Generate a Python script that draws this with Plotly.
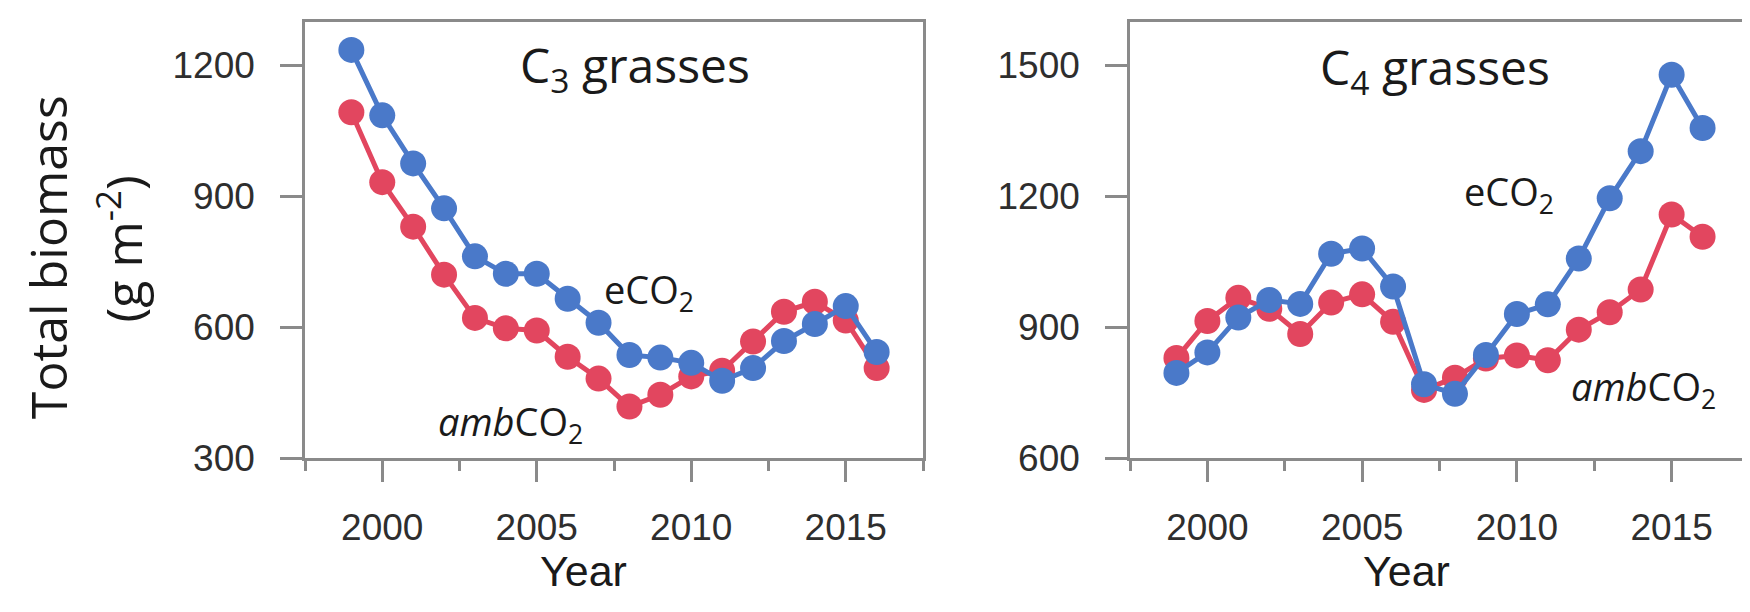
import plotly.graph_objects as go

# ---- data ----
years = [1999, 2000, 2001, 2002, 2003, 2004, 2005, 2006, 2007, 2008,
         2009, 2010, 2011, 2012, 2013, 2014, 2015, 2016]
c3_eco2 = [1235, 1085, 975, 872, 762, 722, 722, 665, 610, 536,
           530, 518, 477, 506, 568, 607, 648, 543]
c3_amb = [1092, 932, 830, 720, 621, 597, 592, 532, 482, 418,
          445, 487, 500, 567, 635, 658, 615, 506]
c4_eco2 = [795, 842, 922, 962, 953, 1068, 1080, 993, 769, 747,
           836, 930, 952, 1057, 1195, 1303, 1478, 1356]
c4_amb = [829, 914, 967, 942, 884, 956, 975, 912, 756, 784,
          828, 835, 824, 894, 934, 986, 1158, 1107]

major_years = [2000, 2005, 2010, 2015]
minor_years = [1997.5, 2002.5, 2007.5, 2012.5, 2017.5]
c3_yticks = [300, 600, 900, 1200]
c4_yticks = [600, 900, 1200, 1500]

BLUE = "#4a79c9"
RED = "#e2465f"
AX = "#8a8a8a"
TXT = "#2e2e2e"

W, H = 1750, 612


def px(x):
    return x / W


def py(y):
    return (H - y) / H


fig = go.Figure()

for xa, ya, amb, eco in [("x", "y", c3_amb, c3_eco2), ("x2", "y2", c4_amb, c4_eco2)]:
    fig.add_trace(go.Scatter(x=years, y=amb, mode="lines+markers", xaxis=xa, yaxis=ya,
                             line=dict(color=RED, width=5),
                             marker=dict(color=RED, size=26), showlegend=False))
    fig.add_trace(go.Scatter(x=years, y=eco, mode="lines+markers", xaxis=xa, yaxis=ya,
                             line=dict(color=BLUE, width=5),
                             marker=dict(color=BLUE, size=26), showlegend=False))

ydom = [py(466), py(14)]


def xaxis_cfg(domain, anchor):
    return dict(domain=domain, anchor=anchor, range=[1997.5, 2017.5],
                showline=True, mirror=True, linecolor=AX, linewidth=2.5,
                showgrid=False, zeroline=False,
                tickmode="array", tickvals=major_years,
                ticktext=[str(v) for v in major_years],
                ticks="outside", ticklen=21, tickwidth=2.5, tickcolor=AX,
                ticklabelstandoff=14,
                minor=dict(tickvals=minor_years, ticks="outside", ticklen=10,
                           tickwidth=2.5, tickcolor=AX, showgrid=False),
                tickfont=dict(family="Liberation Sans, Arial", size=37, color=TXT))


def yaxis_cfg(rng, ticks, anchor):
    return dict(domain=ydom, anchor=anchor, range=rng,
                showline=True, mirror=True, linecolor=AX, linewidth=2.5,
                showgrid=False, zeroline=False,
                tickmode="array", tickvals=ticks, ticktext=[str(v) for v in ticks],
                ticks="outside", ticklen=22, tickwidth=2.5, tickcolor=AX,
                ticklabelstandoff=18,
                tickfont=dict(family="Liberation Sans, Arial", size=37, color=TXT))


fig.update_layout(
    width=W, height=H,
    margin=dict(l=0, r=0, t=0, b=0),
    paper_bgcolor="white", plot_bgcolor="white",
    xaxis=xaxis_cfg([px(297), px(915)], "y"),
    yaxis=yaxis_cfg([300, 1300], c3_yticks, "x"),
    xaxis2=xaxis_cfg([px(1122), px(1741)], "y2"),
    yaxis2=yaxis_cfg([600, 1600], c4_yticks, "x2"),
)

SANS = "Open Sans"
ann = []
# panel titles
ann.append(dict(text="C<sub>3</sub> grasses", x=px(627), y=py(62), font=dict(family=SANS, size=48, color="#1a1a1a")))
ann.append(dict(text="C<sub>4</sub> grasses", x=px(1427), y=py(64), font=dict(family=SANS, size=48, color="#1a1a1a")))
# series labels
ann.append(dict(text="eCO<sub>2</sub>", x=px(641), y=py(294), font=dict(family=SANS, size=38, color="#1a1a1a")))
ann.append(dict(text="<i>amb</i>CO<sub>2</sub>", x=px(502), y=py(430), font=dict(family=SANS, size=38, color="#1a1a1a")))
ann.append(dict(text="eCO<sub>2</sub>", x=px(1501), y=py(192), font=dict(family=SANS, size=38, color="#1a1a1a")))
ann.append(dict(text="<i>amb</i>CO<sub>2</sub>", x=px(1635), y=py(394), font=dict(family=SANS, size=38, color="#1a1a1a")))
# axis titles
ann.append(dict(text="Year", x=px(575), y=py(583), font=dict(family="Liberation Sans, Arial", size=43, color="#1a1a1a")))
ann.append(dict(text="Year", x=px(1398), y=py(583), font=dict(family="Liberation Sans, Arial", size=43, color="#1a1a1a")))
ann.append(dict(text="Total biomass", x=px(40), y=py(258), textangle=-90,
                font=dict(family=SANS, size=50, color="#1a1a1a")))
ann.append(dict(text="(g m<sup>-2</sup>)", x=px(112), y=py(250), textangle=-90,
                font=dict(family=SANS, size=50, color="#1a1a1a")))

for a in ann:
    a.update(xref="paper", yref="paper", showarrow=False, xanchor="center", yanchor="middle")
fig.update_layout(annotations=ann)

fig.write_html("out.html")
